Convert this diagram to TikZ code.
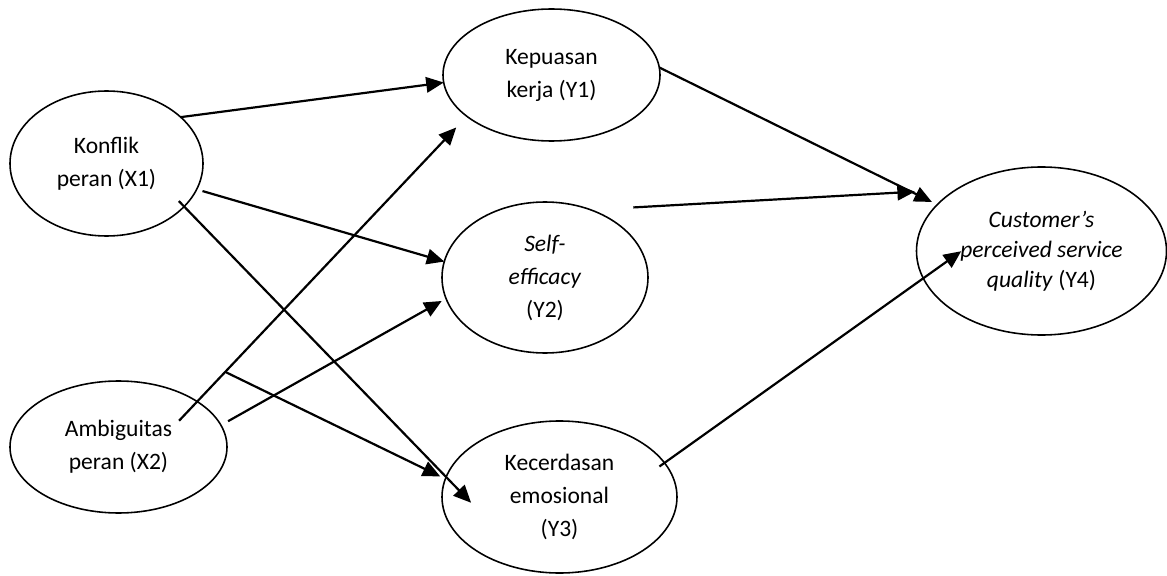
\documentclass[tikz,border=0pt]{standalone}
\usepackage{fontspec}
\setmainfont{Carlito}
\usetikzlibrary{shapes.geometric, arrows.meta}

\begin{document}
\begin{tikzpicture}[
  lat/.style={ellipse,draw,line width=0.9pt,inner sep=0pt,outer sep=0pt,align=center,font=\fontsize{13.4}{18.8}\selectfont},
  pth/.style={-{Triangle[length=0.35cm,width=0.31cm]},line width=1.25pt}
]
  \useasboundingbox (0,0) rectangle (23.34,-11.52);
  % variabel laten
  \node[lat,minimum width=3.86cm,minimum height=2.90cm] (x1) at (2.13,-3.27)  {Konflik\\peran (X1)};
  \node[lat,minimum width=4.34cm,minimum height=2.64cm] (x2) at (2.37,-8.94)  {Ambiguitas\\peran (X2)};
  \node[lat,minimum width=4.34cm,minimum height=2.64cm] (y1) at (11.03,-1.50) {Kepuasan\\kerja (Y1)};
  \node[lat,minimum width=4.12cm,minimum height=3.02cm] (y2) at (10.90,-5.55) {\textit{Self-}\\\textit{efficacy}\\(Y2)};
  \node[lat,minimum width=4.70cm,minimum height=3.04cm] (y3) at (11.19,-9.94) {Kecerdasan\\emosional\\(Y3)};
  \node[lat,minimum width=5.00cm,minimum height=3.36cm,font=\fontsize{13.4}{17.1}\selectfont] (y4) at (20.83,-5.02)
    {\textit{Customer’s}\\\textit{perceived service}\\\textit{quality} (Y4)};

  % jalur
  \draw[pth] (x1.32.2) -- (y1.184.7);
  \draw[pth,shorten <=-0.528cm,shorten >=0.308cm] (x2.30.7) -- (y1.206.5) coordinate[pos=0.104] (br);
  \draw[pth,shorten <=0.122cm] (x1.-16.65) -- (y2.171.4);
  \draw[pth,shorten <=0.164cm,shorten >=0.10cm] (x2.12.1) -- (y2.192.6);
  \draw[pth,shorten <=-0.152cm,shorten >=-0.717cm] (x1.-29.75) -- (y3.170.2);
  \draw[pth,shorten >=0.114cm] (br) -- (y3.171.3);
  \draw[pth,shorten >=0.12cm] (y1.4.4) -- (y4.156.1);
  \draw[pth,shorten <=0.854cm,shorten >=0.836cm] (y2.56.4) -- (y4.144.1);
  \draw[pth,shorten <=-0.124cm,shorten >=-0.932cm] (y3.18.9) -- (y4.193.1);
\end{tikzpicture}
\end{document}
